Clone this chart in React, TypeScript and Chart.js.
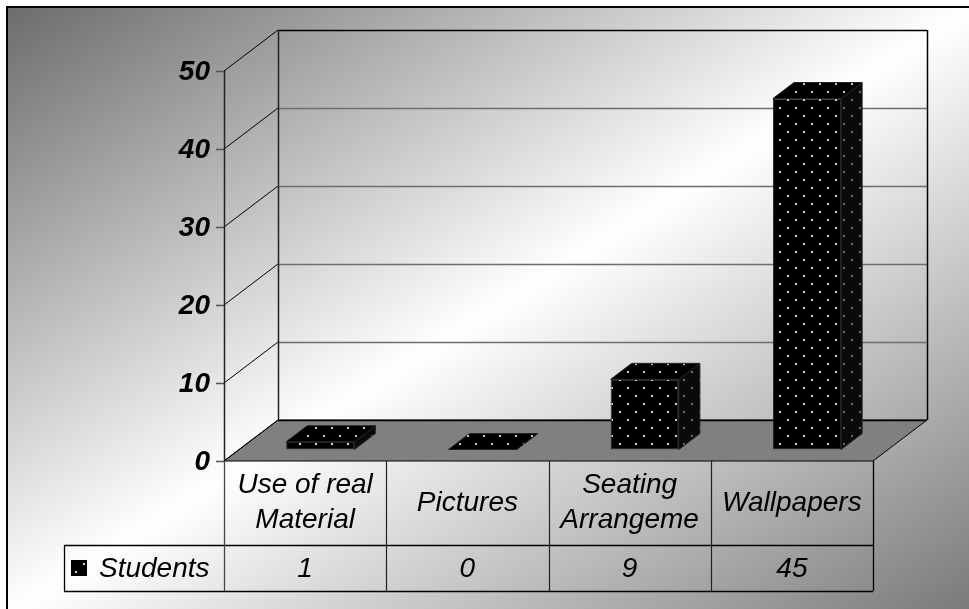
import { useEffect, useRef } from "react";
import { Chart, registerables } from "chart.js";

Chart.register(...registerables);

// ---- data ----
const CATEGORIES = ["Use of real Material", "Pictures", "Seating Arrangement", "Wallpapers"];
const SERIES_NAME = "Students";
const STUDENTS = [1, 0, 9, 45];
const Y_TICKS = [0, 10, 20, 30, 40, 50];
const Y_MIN = 0;
const Y_MAX = 50;

// ---- layout / style ----
const W = 969;
const H = 609;
const DEPTH = { x: 54, y: -41 };
const BAR_FRONT = 0.28;
const BAR_DEPTH = 0.39;
const FONT = '"Liberation Sans", Arial, sans-serif';
const FRONT_LEFT = 224;
const FRONT_RIGHT = 873;
const FRONT_ZERO = 461;
const FRONT_TOP = 71;
const CAT_ROW_H = 84;
const VAL_ROW_H = 46;
const LEGEND_LEFT = 64;

function makePattern(bg: string, dot: string) {
  const c = document.createElement("canvas");
  c.width = 16;
  c.height = 16;
  const g = c.getContext("2d")!;
  g.fillStyle = bg;
  g.fillRect(0, 0, 16, 16);
  g.fillStyle = dot;
  g.fillRect(3, 3, 2, 2);
  g.fillRect(11, 11, 2, 2);
  const ctx = document.createElement("canvas").getContext("2d")!;
  return ctx.createPattern(c, "repeat")!;
}

function wrapText(ctx: CanvasRenderingContext2D, text: string, maxW: number) {
  const words = text.split(" ");
  const lines: string[] = [];
  let cur = "";
  for (const w of words) {
    const test = cur ? cur + " " + w : w;
    if (ctx.measureText(test).width <= maxW || !cur) {
      cur = test;
    } else {
      lines.push(cur);
      cur = w;
    }
  }
  if (cur) lines.push(cur);
  return lines.map((l) => {
    let s = l;
    while (s.length > 1 && ctx.measureText(s).width > maxW) s = s.slice(0, -1);
    return s;
  });
}

export default function App() {
  const ref = useRef<HTMLCanvasElement>(null);

  useEffect(() => {
    const canvas = ref.current!;
    const frontPat = makePattern("#000000", "#d8d8d8");
    const sidePat = makePattern("#0a0a0a", "#6a6a6a");
    const topPat = makePattern("#000000", "#c8c8c8");

    const sx = BAR_FRONT * DEPTH.x;
    const sy = BAR_FRONT * DEPTH.y;
    const unit = (FRONT_ZERO - FRONT_TOP) / (Y_MAX - Y_MIN);
    const padLeft = FRONT_LEFT + sx;
    const padRight = W - (FRONT_RIGHT + sx);
    const padTop = FRONT_TOP + sy;
    const padBottom = H - (FRONT_ZERO + sy);
    void unit;

    const px = (v: number) => Math.round(v) + 0.5;

    const line = (ctx: CanvasRenderingContext2D, x1: number, y1: number, x2: number, y2: number, color: string, w = 1) => {
      ctx.beginPath();
      ctx.strokeStyle = color;
      ctx.lineWidth = w;
      ctx.moveTo(x1, y1);
      ctx.lineTo(x2, y2);
      ctx.stroke();
    };

    const plugin = {
      id: "excel3d",
      beforeDraw(chart: any) {
        const { ctx, chartArea: ca, scales } = chart;
        const ys = scales.y;
        ctx.save();
        ctx.fillStyle = "#ffffff";
        ctx.fillRect(0, 0, W, H);
        // gradient frame
        ctx.save();
        ctx.translate(7, 7);
        ctx.scale(968, 608);
        const g = ctx.createLinearGradient(0, 0, 1, 1);
        g.addColorStop(0, "#6c6c6c");
        g.addColorStop(0.5, "#ffffff");
        g.addColorStop(1, "#787878");
        ctx.fillStyle = g;
        ctx.fillRect(0, 0, 1, 1);
        ctx.restore();
        ctx.strokeStyle = "#000";
        ctx.lineWidth = 2;
        ctx.strokeRect(7, 7, 968, 608);

        const fl = ca.left - sx;
        const fr = ca.right - sx;
        const fy = (v: number) => ys.getPixelForValue(v) - sy;
        const bl = fl + DEPTH.x;
        const br = fr + DEPTH.x;
        const by = (v: number) => fy(v) + DEPTH.y;

        // floor
        ctx.beginPath();
        ctx.moveTo(fl, fy(Y_MIN));
        ctx.lineTo(fr, fy(Y_MIN));
        ctx.lineTo(br, by(Y_MIN));
        ctx.lineTo(bl, by(Y_MIN));
        ctx.closePath();
        ctx.fillStyle = "#808080";
        ctx.fill();
        ctx.strokeStyle = "#000";
        ctx.lineWidth = 1;
        ctx.stroke();

        // back wall gridlines and side diagonals
        for (const v of Y_TICKS) {
          const isEdge = v === Y_MIN || v === Y_MAX;
          line(ctx, bl, px(by(v)), br, px(by(v)), isEdge ? "#000" : "#6e6e6e", 1.3);
          line(ctx, fl, fy(v), bl, by(v), "#000", 1);
          // tick mark
          line(ctx, fl - 8, px(fy(v)), fl, px(fy(v)), "#555", 1.5);
        }
        // vertical edges
        line(ctx, px(fl), fy(Y_MAX), px(fl), fy(Y_MIN), "#222", 1.5);
        line(ctx, px(bl), by(Y_MAX), px(bl), by(Y_MIN), "#222", 1.5);
        line(ctx, px(br), by(Y_MAX), px(br), by(Y_MIN), "#000", 1.5);

        // y tick labels
        ctx.fillStyle = "#000";
        ctx.font = `italic bold 28px ${FONT}`;
        ctx.textAlign = "right";
        ctx.textBaseline = "middle";
        for (const v of Y_TICKS) {
          ctx.fillText(String(v), fl - 14, fy(v) + 1);
        }
        ctx.restore();
      },
      afterDatasetsDraw(chart: any) {
        const { ctx } = chart;
        const meta = chart.getDatasetMeta(0);
        const dx = BAR_DEPTH * DEPTH.x;
        const dy = BAR_DEPTH * DEPTH.y;
        ctx.save();
        ctx.strokeStyle = "#222";
        ctx.lineWidth = 1;
        for (const el of meta.data) {
          const { x, y, base, width } = el.getProps(["x", "y", "base", "width"], true);
          const l = x - width / 2;
          const r = x + width / 2;
          // side
          ctx.beginPath();
          ctx.moveTo(r, y);
          ctx.lineTo(r + dx, y + dy);
          ctx.lineTo(r + dx, base + dy);
          ctx.lineTo(r, base);
          ctx.closePath();
          ctx.fillStyle = sidePat;
          ctx.fill();
          ctx.stroke();
          // top
          ctx.beginPath();
          ctx.moveTo(l, y);
          ctx.lineTo(r, y);
          ctx.lineTo(r + dx, y + dy);
          ctx.lineTo(l + dx, y + dy);
          ctx.closePath();
          ctx.fillStyle = topPat;
          ctx.fill();
          ctx.stroke();
        }
        ctx.restore();
      },
      afterDraw(chart: any) {
        const { ctx, chartArea: ca, scales } = chart;
        const xs = scales.x;
        const ys = scales.y;
        const colW = ca.width / CATEGORIES.length;
        const top = ys.getPixelForValue(Y_MIN) - sy;
        const r1 = top + CAT_ROW_H;
        const r2 = r1 + VAL_ROW_H;
        const fl = ca.left - sx;
        const fr = ca.right - sx;
        ctx.save();
        // lines
        line(ctx, LEGEND_LEFT, px(r1), fr, px(r1), "#000", 1.3);
        line(ctx, LEGEND_LEFT, px(r2), fr, px(r2), "#000", 1.3);
        line(ctx, px(LEGEND_LEFT), r1, px(LEGEND_LEFT), r2, "#000", 1.3);
        line(ctx, px(fr), top, px(fr), r2, "#000", 1.3);
        line(ctx, px(fl), top, px(fl), r2, "#444", 1.3);
        for (let i = 1; i < CATEGORIES.length; i++) {
          const b = xs.getPixelForValue(i) - colW / 2 - sx;
          line(ctx, px(b), top, px(b), r2, "#222", 1.2);
        }
        // text
        ctx.fillStyle = "#000";
        ctx.font = `italic 28px ${FONT}`;
        ctx.textAlign = "center";
        ctx.textBaseline = "middle";
        CATEGORIES.forEach((c, i) => {
          const cx = xs.getPixelForValue(i) - sx;
          const lines = wrapText(ctx, c, colW - 14);
          const lh = 35;
          const mid = (top + r1) / 2;
          lines.forEach((ln, j) => {
            ctx.fillText(ln, cx, mid + (j - (lines.length - 1) / 2) * lh);
          });
          ctx.fillText(String(STUDENTS[i]), cx, (r1 + r2) / 2 + 1);
        });
        // legend
        const ky = (r1 + r2) / 2 - 8;
        ctx.fillStyle = frontPat;
        ctx.fillRect(71, ky, 16, 16);
        ctx.fillStyle = "#000";
        ctx.textAlign = "left";
        ctx.fillText(SERIES_NAME, 99, (r1 + r2) / 2 + 1);
        ctx.restore();
      },
    };

    const chart = new Chart(canvas, {
      type: "bar",
      data: {
        labels: CATEGORIES,
        datasets: [
          {
            label: SERIES_NAME,
            data: STUDENTS,
            backgroundColor: frontPat as any,
            borderColor: "#222",
            borderWidth: 1,
            borderSkipped: false,
            barPercentage: 0.42,
            categoryPercentage: 1,
          },
        ],
      },
      options: {
        responsive: false,
        animation: false,
        devicePixelRatio: 1,
        layout: { padding: { left: padLeft, right: padRight, top: padTop, bottom: padBottom } },
        plugins: { legend: { display: false }, tooltip: { enabled: false } },
        scales: {
          x: { display: false },
          y: { display: false, min: Y_MIN, max: Y_MAX },
        },
      },
      plugins: [plugin],
    });
    return () => chart.destroy();
  }, []);

  return (
    <div style={{ position: "fixed", left: 0, top: 0, width: W, height: H }}>
      <canvas ref={ref} width={W} height={H} style={{ display: "block" }} />
    </div>
  );
}
